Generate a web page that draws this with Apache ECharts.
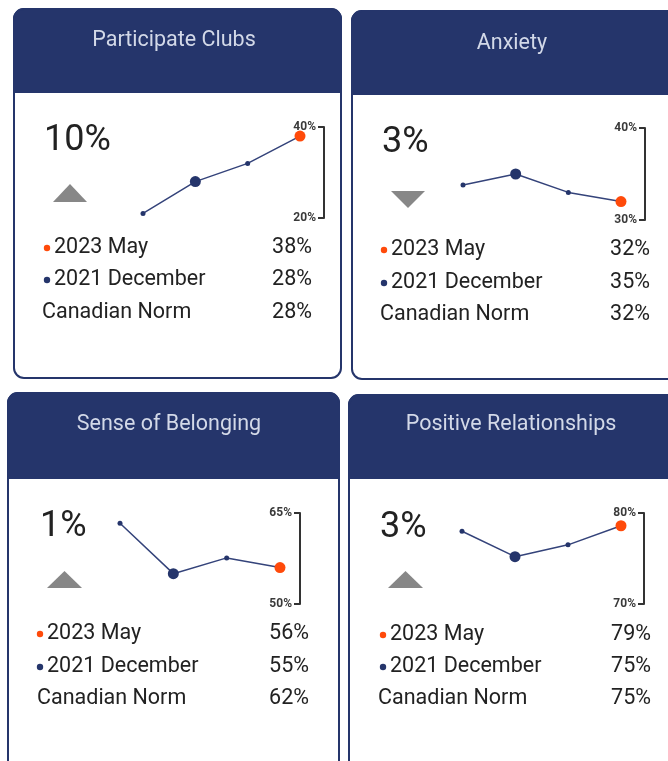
<!DOCTYPE html>
<html>
<head>
<meta charset="utf-8">
<script src="https://cdn.jsdelivr.net/npm/echarts@6/dist/echarts.min.js"></script>
<style>
  html, body { margin: 0; padding: 0; background: #fff; }
  #main { width: 668px; height: 761px; }
</style>
</head>
<body>
<div id="main"></div>
<script>
var titles = ['Participate Clubs', 'Anxiety', 'Sense of Belonging', 'Positive Relationships'];
var changes = ['10%', '3%', '1%', '3%'];
var directions = ['up', 'down', 'up', 'up'];
var waves = ['Wave 1', '2021 December', 'Wave 3', '2023 May'];
var clubsValues = [21, 28, 32, 38];
var anxietyValues = [33.8, 35, 33, 32];
var belongingValues = [63.3, 55, 57.6, 56];
var relationshipsValues = [78, 75.2, 76.5, 78.6];
var axisMin = [20, 30, 50, 70];
var axisMax = [40, 40, 65, 80];
var rowLabels = ['2023 May', '2021 December', 'Canadian Norm'];
var may2023 = ['38%', '32%', '56%', '79%'];
var dec2021 = ['28%', '35%', '55%', '75%'];
var canadianNorm = ['28%', '32%', '62%', '75%'];

var seriesValues = [clubsValues, anxietyValues, belongingValues, relationshipsValues];

var navy = '#25356b';
var orange = '#ff4a0a';
var font = 'Roboto, "Noto Sans", sans-serif';

// where each card sits on the page
var panels = [
  { x: 14, y: 9, w: 327, h: 369, head: 83, titleX: 174, titleY: 41, numX: 44, numY: 141,
    tri: [53, 184, 87, 202], rowsY: [248, 280, 313], dotX: 47, textX: 54, normX: 42, valX: 312,
    grid: { left: 143, width: 157, top: 127, height: 91 }, off: 24 },
  { x: 352, y: 11, w: 330, h: 368, head: 83, titleX: 512, titleY: 44, numX: 382, numY: 143,
    tri: [391, 191, 425, 208], rowsY: [250, 283, 315], dotX: 384, textX: 391, normX: 380, valX: 650,
    grid: { left: 463, width: 158, top: 128, height: 92 }, off: 24 },
  { x: 8, y: 393, w: 331, h: 400, head: 85, titleX: 169, titleY: 425, numX: 40, numY: 527,
    tri: [47, 571, 82, 588], rowsY: [634, 667, 699], dotX: 40, textX: 47, normX: 37, valX: 309,
    grid: { left: 120, width: 160, top: 513, height: 91 }, off: 20 },
  { x: 349, y: 395, w: 330, h: 400, head: 83, titleX: 511, titleY: 425, numX: 380, numY: 528,
    tri: [388, 571, 423, 588], rowsY: [635, 667, 699], dotX: 383, textX: 390, normX: 378, valX: 651,
    grid: { left: 462, width: 159, top: 513, height: 91 }, off: 23 }
];

var graphics = [];
var grids = [], xAxes = [], yAxes = [], series = [];

panels.forEach(function (p, i) {
  graphics.push({
    type: 'rect', z: 0,
    shape: { x: p.x, y: p.y, width: p.w, height: p.h, r: 10 },
    style: { fill: '#fff', stroke: navy, lineWidth: 2 }
  });
  graphics.push({
    type: 'rect', z: 1,
    shape: { x: p.x, y: p.y, width: p.w, height: p.head, r: [10, 10, 0, 0] },
    style: { fill: navy, stroke: navy, lineWidth: 2 }
  });
  graphics.push({
    type: 'text', z: 2, x: p.titleX, y: p.titleY,
    style: { text: titles[i], fill: '#d3d9e8', font: '21.5px ' + font, textAlign: 'center', textVerticalAlign: 'middle' }
  });
  graphics.push({
    type: 'text', z: 2, x: p.numX, y: p.numY,
    style: { text: changes[i], fill: '#222', font: '36px ' + font, textAlign: 'left', textVerticalAlign: 'middle' }
  });
  var t = p.tri;
  var pts = directions[i] === 'up'
    ? [[t[0], t[3]], [t[2], t[3]], [(t[0] + t[2]) / 2, t[1]]]
    : [[t[0], t[1]], [t[2], t[1]], [(t[0] + t[2]) / 2, t[3]]];
  graphics.push({ type: 'polygon', z: 2, shape: { points: pts }, style: { fill: '#878787' } });

  var vals = [may2023[i], dec2021[i], canadianNorm[i]];
  var dots = [orange, navy, null];
  rowLabels.forEach(function (lab, r) {
    if (dots[r]) {
      graphics.push({ type: 'circle', z: 2, shape: { cx: p.dotX, cy: p.rowsY[r], r: 3.2 }, style: { fill: dots[r] } });
    }
    graphics.push({
      type: 'text', z: 2, x: dots[r] ? p.textX : p.normX, y: p.rowsY[r],
      style: { text: lab, fill: '#222', font: '21.5px ' + font, textAlign: 'left', textVerticalAlign: 'middle' }
    });
    graphics.push({
      type: 'text', z: 2, x: p.valX, y: p.rowsY[r],
      style: { text: vals[r], fill: '#222', font: '21.5px ' + font, textAlign: 'right', textVerticalAlign: 'middle' }
    });
  });

  grids.push(p.grid);
  xAxes.push({ type: 'category', gridIndex: i, data: waves, boundaryGap: false, show: false });
  yAxes.push({
    type: 'value', gridIndex: i, position: 'right', offset: p.off,
    min: axisMin[i], max: axisMax[i], interval: axisMax[i] - axisMin[i],
    splitLine: { show: false },
    axisLine: { show: true, lineStyle: { color: '#333', width: 2 } },
    axisTick: { show: true, inside: true, length: 6, lineStyle: { color: '#333', width: 2 } },
    axisLabel: { inside: true, margin: 8, formatter: '{value}%', color: '#3a3a3a', fontSize: 12, fontWeight: 'bold', fontFamily: font }
  });
  series.push({
    type: 'line', xAxisIndex: i, yAxisIndex: i, z: 5,
    lineStyle: { color: '#34437a', width: 1.5 },
    symbol: 'circle',
    data: seriesValues[i].map(function (v, k) {
      var big = k === 1 || k === 3;
      return {
        value: v,
        symbolSize: big ? 11 : 5,
        itemStyle: { color: k === 3 ? orange : navy }
      };
    }),
    animation: false
  });
});

var myChart = echarts.init(document.getElementById('main'));
myChart.setOption({
  animation: false,
  grid: grids,
  xAxis: xAxes,
  yAxis: yAxes,
  series: series,
  graphic: graphics
});
</script>
</body>
</html>
